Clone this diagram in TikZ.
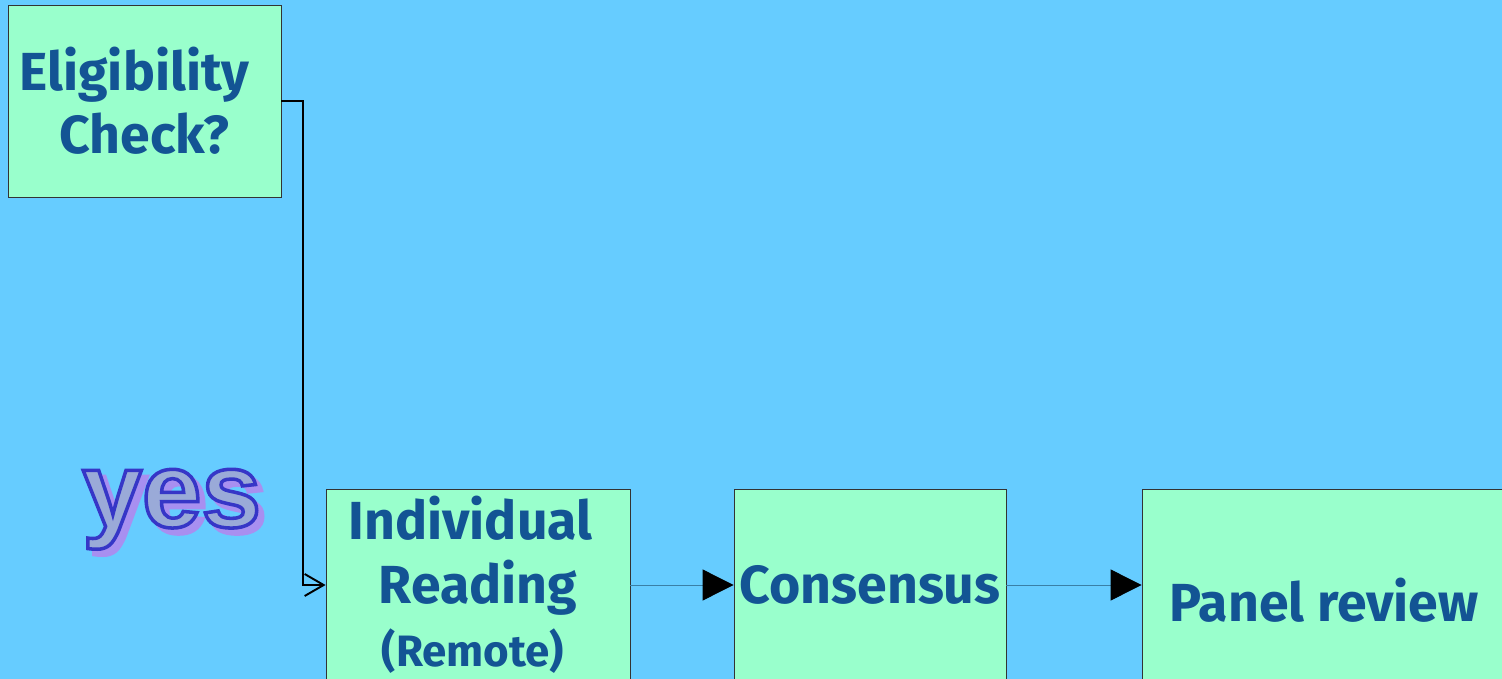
\documentclass[tikz,border=0pt]{standalone}
\usepackage{fontspec}
\usepackage{xcolor}
\usetikzlibrary{arrows.meta}
\newfontfamily\boxfont{Fira Sans}
\newfontfamily\yesfont{Liberation Sans}
\definecolor{sky}{HTML}{66CCFF}
\definecolor{mint}{HTML}{99FFCC}
\definecolor{ink}{HTML}{135494}
\definecolor{wire}{HTML}{3A7FA6}
\definecolor{yesfill}{HTML}{9AAAD8}
\definecolor{yesshade}{HTML}{A890F0}
% filled text with a stroked outline (pdf text render mode 2)
\newcommand\outlined[2]{\special{pdf:code #1 RG 2 w 2 Tr}#2\special{pdf:code 0 Tr}}

\begin{document}
\begin{tikzpicture}[x=0.02cm, y=-0.02cm,
  box/.style = {draw=black!80, line width=0.5pt, fill=mint, inner sep=0pt, text=ink, align=center,
    font=\boxfont\bfseries\fontsize{30.5}{36}\selectfont},
  flow/.style = {draw=wire, line width=0.5pt, -{Triangle[length=0.62cm, width=0.62cm, color=black]}},
  elbow/.style = {line width=1.1pt, -{Straight Barb[length=0.38cm, width=0.44cm]}},
  yesword/.style = {anchor=base west, inner sep=0pt, font=\yesfont\bfseries\fontsize{61}{61}\selectfont}]
        \clip (0,0) rectangle (1502,679);
        \fill[sky] (0,0) rectangle (1502,679);
        \node [box, minimum width=5.46cm, minimum height=3.84cm] (elig) at (144.5,101) {Eligibility\hspace*{0.4cm}\\Check?};
        \node [box, minimum width=6.08cm, minimum height=3.84cm] (ind) at (478,585) {Individual\hspace*{0.3cm}\\Reading\\{\fontsize{25}{28}\selectfont (Remote)}\hspace*{0.2cm}};
        \node [box, minimum width=5.44cm, minimum height=3.84cm] (cons) at (870,585) {Consensus};
        \node [box, minimum width=7.28cm, minimum height=4.44cm] (panel) at (1324,600) {Panel review};
        \node [yesword, text=yesshade] (yesshadow) at (88,533) {\outlined{0.66 0.56 0.94}{yes}};
        \node [yesword, text=yesfill] (yes) at (82,527) {\outlined{0.21 0.21 0.78}{yes}};
        \draw[elbow] (elig.east) -- ++(22,0) |- (ind.west);
        \draw[flow] (ind.east) -- (cons.west);
        \draw[flow] (cons.east) -- (cons.east -| panel.west);
\end{tikzpicture}
\end{document}
